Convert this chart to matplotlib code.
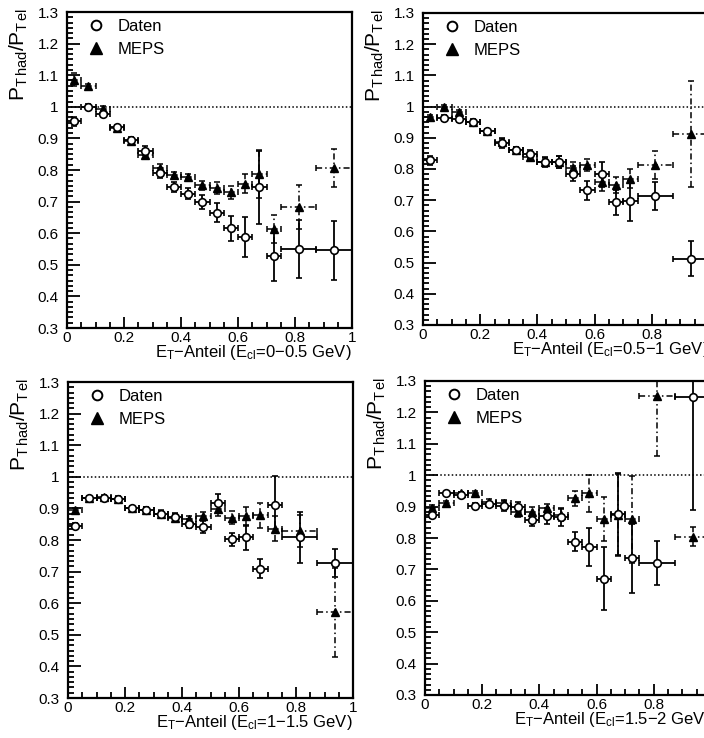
import numpy as np
import matplotlib
matplotlib.use("Agg")
import matplotlib.pyplot as plt
from matplotlib.ticker import MultipleLocator, FormatStrFormatter
from matplotlib.lines import Line2D

plt.rcParams['font.family'] = ['Liberation Sans', 'DejaVu Sans']
plt.rcParams['mathtext.fontset'] = 'custom'
plt.rcParams['mathtext.rm'] = 'Liberation Sans'
plt.rcParams['mathtext.it'] = 'Liberation Sans'

# bin edges of E_T fraction
edges = [0.0, 0.05, 0.10, 0.15, 0.20, 0.25, 0.30, 0.35, 0.40, 0.45, 0.50,
         0.55, 0.60, 0.65, 0.70, 0.75, 0.875, 1.0]

panel_ranges = ["0\u22120.5", "0.5\u22121", "1\u22121.5", "1.5\u22122"]

daten_1 = [0.954, 1.0, 0.977, 0.935, 0.896, 0.861, 0.79, 0.746, 0.725, 0.699, 0.664, 0.616, 0.588, 0.745, 0.529, 0.55, 0.546]
daten_err_1 = [0.015, 0.008, 0.01, 0.006, 0.008, 0.015, 0.015, 0.015, 0.017, 0.022, 0.03, 0.04, 0.063, 0.115, 0.08, 0.093, 0.093]
meps_1 = [1.086, 1.065, 0.993, 0.933, 0.893, 0.849, 0.806, 0.785, 0.778, 0.751, 0.743, 0.729, 0.756, 0.787, 0.613, 0.683, 0.806]
meps_err_1 = [0.02, 0.008, 0.008, 0.006, 0.008, 0.012, 0.012, 0.008, 0.008, 0.015, 0.02, 0.02, 0.03, 0.075, 0.045, 0.07, 0.06]

daten_2 = [0.828, 0.963, 0.960, 0.952, 0.921, 0.883, 0.86, 0.847, 0.822, 0.822, 0.785, 0.732, 0.783, 0.694, 0.697, 0.713, 0.513]
daten_err_2 = [0.015, 0.01, 0.01, 0.008, 0.008, 0.015, 0.01, 0.015, 0.015, 0.02, 0.025, 0.03, 0.04, 0.04, 0.065, 0.045, 0.055]
meps_2 = [0.966, 0.998, 0.982, 0.95, 0.921, 0.886, 0.86, 0.84, 0.824, 0.822, 0.804, 0.812, 0.758, 0.748, 0.769, 0.812, 0.913]
meps_err_2 = [0.008, 0.006, 0.008, 0.008, 0.008, 0.01, 0.01, 0.01, 0.012, 0.02, 0.02, 0.02, 0.03, 0.025, 0.03, 0.045, 0.17]

daten_3 = [0.845, 0.932, 0.932, 0.93, 0.901, 0.894, 0.883, 0.873, 0.852, 0.842, 0.917, 0.802, 0.808, 0.709, 0.912, 0.808, 0.727]
daten_err_3 = [0.01, 0.008, 0.008, 0.008, 0.008, 0.01, 0.01, 0.012, 0.015, 0.02, 0.03, 0.02, 0.04, 0.03, 0.09, 0.08, 0.045]
meps_3 = [0.894, 0.932, 0.935, 0.93, 0.901, 0.894, 0.883, 0.871, 0.865, 0.875, 0.897, 0.871, 0.875, 0.878, 0.836, 0.828, 0.571]
meps_err_3 = [0.008, 0.006, 0.006, 0.006, 0.008, 0.01, 0.012, 0.012, 0.012, 0.015, 0.02, 0.02, 0.03, 0.04, 0.04, 0.05, 0.14]

daten_4 = [0.873, 0.942, 0.938, 0.902, 0.907, 0.902, 0.9, 0.857, 0.87, 0.867, 0.788, 0.772, 0.671, 0.876, 0.735, 0.719, 1.249]
daten_err_4 = [0.01, 0.006, 0.008, 0.008, 0.008, 0.015, 0.015, 0.02, 0.025, 0.03, 0.03, 0.06, 0.1, 0.13, 0.11, 0.07, 0.36]
meps_4 = [0.896, 0.91, 0.942, 0.944, 0.915, 0.91, 0.883, 0.883, 0.894, 0.873, 0.926, 0.942, 0.86, 0.873, 0.859, 1.251, 0.804]
meps_err_4 = [0.01, 0.008, 0.006, 0.006, 0.008, 0.01, 0.015, 0.015, 0.015, 0.02, 0.025, 0.06, 0.07, 0.13, 0.14, 0.19, 0.03]

panels = [
    (daten_1, daten_err_1, meps_1, meps_err_1),
    (daten_2, daten_err_2, meps_2, meps_err_2),
    (daten_3, daten_err_3, meps_3, meps_err_3),
    (daten_4, daten_err_4, meps_4, meps_err_4),
]

e = np.array(edges)
xc = 0.5 * (e[:-1] + e[1:])
xw = 0.5 * (e[1:] - e[:-1])

W, H = 704, 738
fig = plt.figure(figsize=(W / 100, H / 100), dpi=100)
fig.patch.set_facecolor('white')

# axes boxes in pixels: left, top, right, bottom
boxes = [(67, 12, 352, 328), (423, 13, 709, 325), (68, 382, 353, 698), (425, 381, 711, 695)]

for (dat, derr, mep, merr), rng, (l, t, r, b) in zip(panels, panel_ranges, boxes):
    ax = fig.add_axes([l / W, 1 - b / H, (r - l) / W, (b - t) / H])
    ax.set_xlim(0, 1)
    ax.set_ylim(0.3, 1.3)
    ax.axhline(1.0, color='black', lw=1.1, ls=(0, (1, 1.5)), zorder=1)

    eb = ax.errorbar(xc, mep, yerr=merr, xerr=xw, fmt='^', ms=5.5, mfc='black', mec='black',
                     ecolor='black', elinewidth=1.1, capsize=2.5, capthick=1.1, zorder=3)
    for lc in eb[2]:
        lc.set_linestyle((0, (4, 2, 1, 2)))
    ax.errorbar(xc, dat, yerr=derr, xerr=xw, fmt='o', ms=5.5, mfc='white', mec='black', mew=1.2,
                ecolor='black', elinewidth=1.3, capsize=2.5, capthick=1.3, zorder=4)

    for s in ax.spines.values():
        s.set_linewidth(1.6)
    ax.xaxis.set_major_locator(MultipleLocator(0.2))
    ax.xaxis.set_minor_locator(MultipleLocator(0.05))
    ax.yaxis.set_major_locator(MultipleLocator(0.1))
    ax.yaxis.set_minor_locator(MultipleLocator(0.1 / 6))
    ax.xaxis.set_major_formatter(FormatStrFormatter('%g'))
    ax.yaxis.set_major_formatter(FormatStrFormatter('%g'))
    ax.tick_params(which='both', direction='in', top=False, right=False, labelsize=11, width=1.3)
    ax.tick_params(axis='y', which='major', length=9, pad=6)
    ax.tick_params(axis='y', which='minor', length=4.5)
    ax.tick_params(axis='x', which='major', length=8, pad=2)
    ax.tick_params(axis='x', which='minor', length=4)

    ax.set_xlabel('E$_{\\mathregular{T}}$\u2212Anteil (E$_{\\mathregular{cl}}$=' + rng + ' GeV)',
                  fontsize=12, loc='right', labelpad=-1)
    ax.text(-0.17, 1.013, r'P$_{\mathregular{T\,had}}$/P$_{\mathregular{T\,el}}$', transform=ax.transAxes,
            rotation=90, ha='center', va='top', fontsize=15)

    handles = [Line2D([], [], ls='none', marker='o', ms=7, mfc='white', mec='black', mew=1.4),
               Line2D([], [], ls='none', marker='^', ms=8, mfc='black', mec='black')]
    ax.legend(handles, ['Daten', 'MEPS'], loc='upper left', bbox_to_anchor=(0.02, 1.025),
              frameon=False, fontsize=12, handlelength=1.0, handletextpad=0.8, labelspacing=0.45)

fig.savefig('out.png', dpi=100)
